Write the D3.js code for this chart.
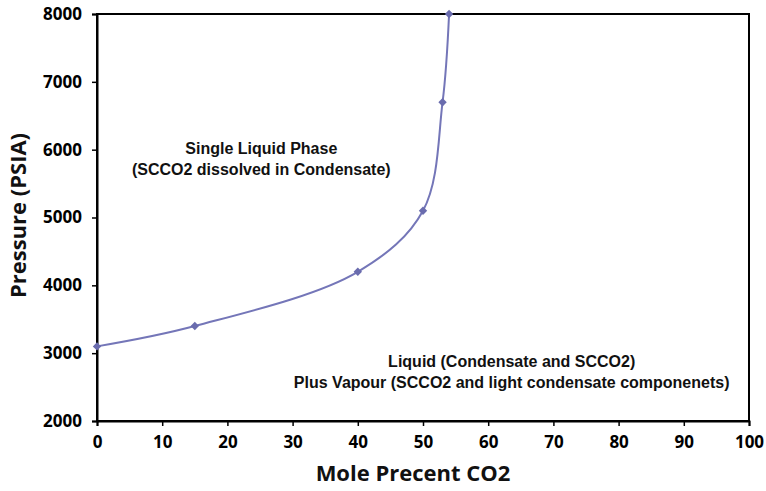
<!DOCTYPE html>
<html>
<head>
<meta charset="utf-8">
<script src="https://cdn.jsdelivr.net/npm/d3@7"></script>
<style>
  body { margin: 0; background: #fff; }
  .tick text { font-family: "Open Sans", sans-serif; font-weight: 700; font-size: 17px; fill: #000; }
  .note { font-family: "Liberation Sans", Arial, sans-serif; font-weight: 700; font-size: 16px; fill: #111; }
  .title { font-family: "Open Sans", sans-serif; font-weight: 700; fill: #111; }
</style>
</head>
<body>
<div id="chart"></div>
<script>
// mole percent CO2 vs pressure (PSIA)
const moleCO2 = [0, 15, 40, 50, 53, 54]
const pressure = [3100, 3400, 4200, 5100, 6700, 8000]
const xTicks = [0, 10, 20, 30, 40, 50, 60, 70, 80, 90, 100]
const yTicks = [2000, 3000, 4000, 5000, 6000, 7000, 8000]
const notes = [
  { x: 25.2, y: 5935, lines: ["Single Liquid Phase", "(SCCO2 dissolved in Condensate)"] },
  { x: 63.6, y: 2800, lines: ["Liquid (Condensate and SCCO2)", "Plus Vapour (SCCO2 and light condensate componenets)"] }
]

const width = 766, height = 491
const margin = { top: 14, right: 17, bottom: 70, left: 97 }
const w = width - margin.left - margin.right
const h = height - margin.top - margin.bottom

const svg = d3.select("#chart").append("svg")
  .attr("width", width)
  .attr("height", height)

const g = svg.append("g")
  .attr("transform", "translate(" + margin.left + "," + margin.top + ")")

const x = d3.scaleLinear().domain([0, 100]).range([0, w])
const y = d3.scaleLinear().domain([2000, 8000]).range([h, 0])

// frame around the plot
g.append("rect")
  .attr("width", w)
  .attr("height", h)
  .attr("fill", "none")
  .attr("stroke", "#000")
  .attr("stroke-width", 2)

const gx = g.append("g")
  .attr("transform", "translate(0," + h + ")")
  .call(d3.axisBottom(x).tickValues(xTicks).tickSize(5).tickPadding(10))
gx.select(".domain").attr("stroke-width", 2)
gx.selectAll(".tick line").attr("stroke-width", 1.5)

const gy = g.append("g")
  .call(d3.axisLeft(y).tickValues(yTicks).tickFormat(d3.format("d")).tickSize(5).tickPadding(10))
gy.select(".domain").attr("stroke-width", 2)
gy.selectAll(".tick line").attr("stroke-width", 1.5)

const data = moleCO2.map((v, i) => ({ x: v, y: pressure[i] }))

const line = d3.line()
  .x(d => x(d.x))
  .y(d => y(d.y))
  .curve(d3.curveCatmullRom.alpha(0.5))

g.append("path")
  .datum(data)
  .attr("fill", "none")
  .attr("stroke", "#7476b8")
  .attr("stroke-width", 2)
  .attr("d", line)

g.selectAll(".pt")
  .data(data)
  .join("path")
  .attr("class", "pt")
  .attr("transform", d => "translate(" + x(d.x) + "," + y(d.y) + ")")
  .attr("d", d3.symbol(d3.symbolDiamond2, 45))
  .attr("fill", "#6a6cae")

// region labels
notes.forEach(n => {
  const t = g.append("text")
    .attr("class", "note")
    .attr("text-anchor", "middle")
    .attr("x", x(n.x))
    .attr("y", y(n.y))
  n.lines.forEach((s, i) => {
    t.append("tspan")
      .attr("x", x(n.x))
      .attr("dy", i === 0 ? 0 : 21)
      .text(s)
  })
})

// axis titles
svg.append("text")
  .attr("class", "title")
  .attr("font-size", 22)
  .attr("text-anchor", "middle")
  .attr("x", margin.left + w / 2 - 10)
  .attr("y", 481)
  .text("Mole Precent CO2")

svg.append("text")
  .attr("class", "title")
  .attr("font-size", 22)
  .attr("text-anchor", "middle")
  .attr("transform", "translate(26," + (margin.top + h / 2 - 2) + ") rotate(-90)")
  .text("Pressure (PSIA)")
</script>
</body>
</html>
